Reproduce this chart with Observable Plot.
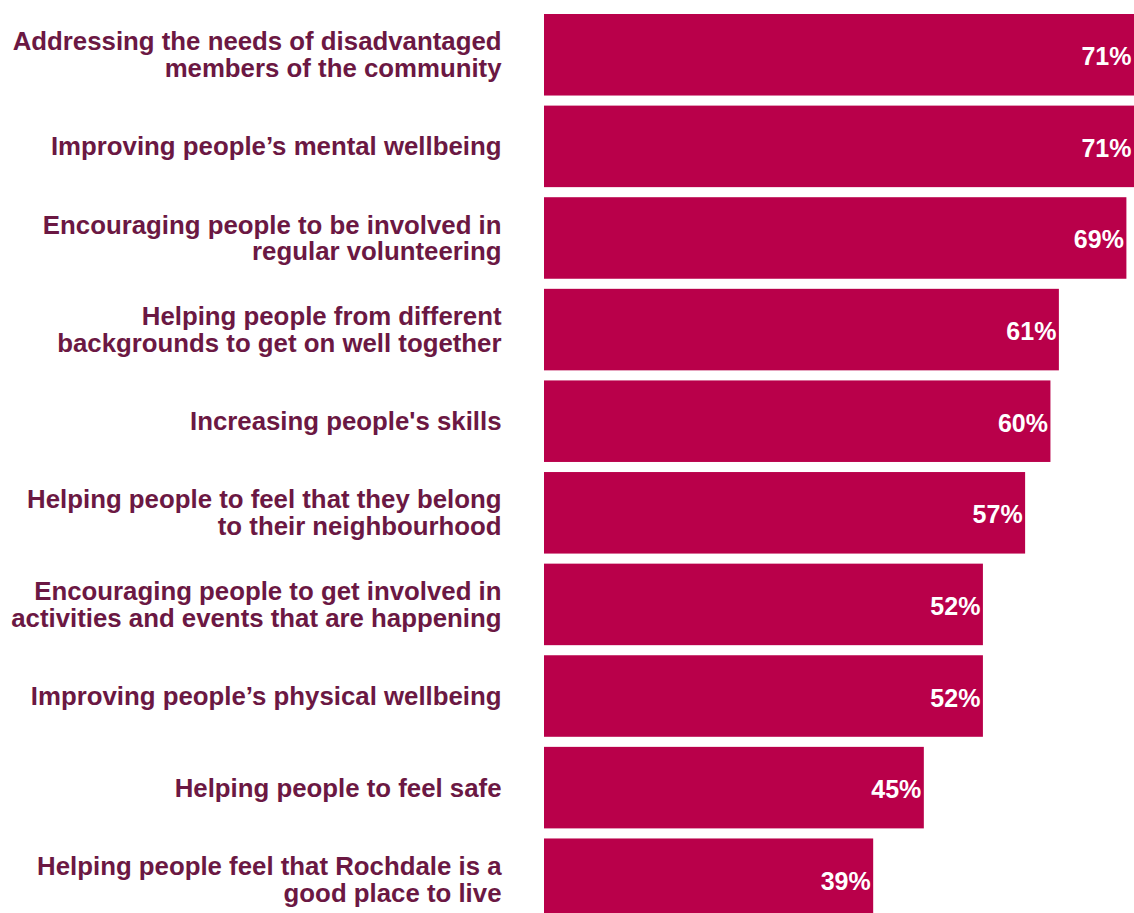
<!DOCTYPE html>
<html>
<head>
<meta charset="utf-8">
<script src="https://cdn.jsdelivr.net/npm/d3@7"></script>
<script src="https://cdn.jsdelivr.net/npm/@observablehq/plot@0.6"></script>
<style>
  html, body { margin: 0; padding: 0; background: #fff; overflow: hidden; }
  #chart svg { display: block; }
</style>
</head>
<body>
<div id="chart"></div>
<script>
const categories = [
  "Addressing the needs of disadvantaged\nmembers of the community",
  "Improving people’s mental wellbeing",
  "Encouraging people to be involved in\nregular volunteering",
  "Helping people from different\nbackgrounds to get on well together",
  "Increasing people's skills",
  "Helping people to feel that they belong\nto their neighbourhood",
  "Encouraging people to get involved in\nactivities and events that are happening",
  "Improving people’s physical wellbeing",
  "Helping people to feel safe",
  "Helping people feel that Rochdale is a\ngood place to live"
];
const values = [71, 71, 69, 61, 60, 57, 52, 52, 45, 39];
const valueLabels = ["71%", "71%", "69%", "61%", "60%", "57%", "52%", "52%", "45%", "39%"];

const data = categories.map((c, i) => ({category: c, value: values[i], label: valueLabels[i]}));
const xMax = 69.9;

const barColor = "#B9004A";
const textColor = "#6B1843";
const font = "'Liberation Sans', Arial, sans-serif";

const plot = Plot.plot({
  width: 1134,
  height: 913,
  marginLeft: 544,
  marginRight: 0,
  marginTop: 0,
  marginBottom: 0,
  style: {fontFamily: font, background: "#fff"},
  x: {domain: [0, xMax], axis: null},
  y: {domain: categories, range: [14, 920], paddingInner: 0.11, paddingOuter: 0, round: false, axis: null},
  marks: [
    Plot.barX(data, {x: "value", y: "category", fill: barColor, clip: true}),
    Plot.text(data, {
      x: d => Math.min(d.value, xMax),
      y: "category",
      text: "label",
      textAnchor: "end",
      dx: -3,
      dy: 2,
      fill: "white",
      fontWeight: "bold",
      fontSize: 25
    }),
    Plot.text(data, {
      x: 0,
      y: "category",
      text: "category",
      textAnchor: "end",
      dx: -43,
      dy: 0,
      lineHeight: 1.04,
      fill: textColor,
      fontWeight: "bold",
      fontSize: 25.8
    })
  ]
});
document.getElementById("chart").appendChild(plot);
</script>
</body>
</html>
